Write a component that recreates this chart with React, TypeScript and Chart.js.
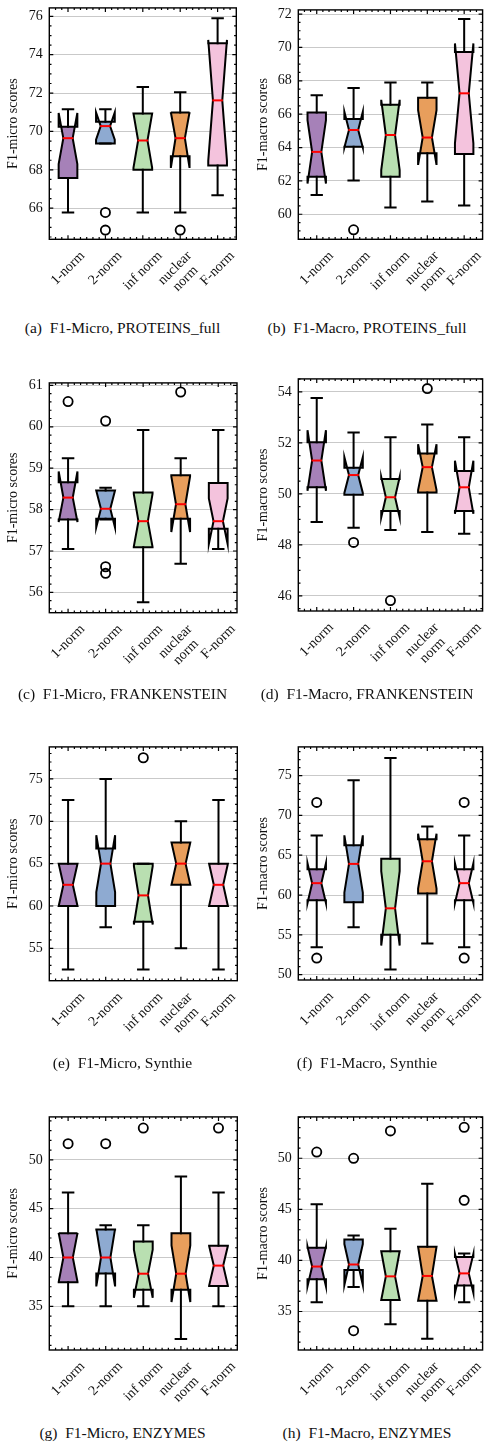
import React, { useEffect, useRef } from 'react';
import { Chart, registerables } from 'chart.js';

Chart.register(...registerables);

const FONT = "'Liberation Serif', 'DejaVu Serif', serif";

const categories = ['1-norm', '2-norm', 'inf norm', 'nuclear\nnorm', 'F-norm'];

// (a) F1-Micro, PROTEINS_full
const aWhiskerLow = [65.78, 69.37, 65.78, 65.78, 66.68];
const aQ1 = [67.57, 69.37, 68.0, 68.71, 68.23];
const aMedian = [69.65, 70.28, 69.53, 69.65, 71.62];
const aQ3 = [70.24, 70.51, 70.94, 70.99, 74.6];
const aWhiskerHigh = [71.16, 71.16, 72.32, 72.05, 75.9];
const aNotchLow = [68.3, 69.57, 68.1, 68.1, 68.47];
const aNotchHigh = [70.96, 70.99, 70.94, 71.0, 74.77];
const aOutliers: [number, number][] = [[1, 65.78], [1, 64.86], [3, 64.86]];
const aTicks = [66, 68, 70, 72, 74, 76];
const aRange = [64.38, 76.44];
const aMinor = 0.5;

// (b) F1-Macro, PROTEINS_full
const bWhiskerLow = [61.16, 62.02, 60.4, 60.77, 60.52];
const bQ1 = [62.25, 64.05, 62.25, 63.66, 63.62];
const bMedian = [63.74, 65.05, 64.75, 64.6, 67.25];
const bQ3 = [66.1, 65.71, 66.57, 66.98, 69.73];
const bWhiskerHigh = [67.14, 67.57, 67.9, 67.9, 71.7];
const bNotchLow = [61.84, 64.0, 62.65, 62.96, 64.25];
const bNotchHigh = [65.64, 66.14, 66.86, 66.24, 70.24];
const bOutliers: [number, number][] = [[1, 59.07]];
const bTicks = [60, 62, 64, 66, 68, 70, 72];
const bRange = [58.5, 72.25];
const bMinor = 0.5;

// (c) F1-Micro, FRANKENSTEIN
const cWhiskerLow = [57.05, 57.76, 55.76, 56.69, 57.05];
const cQ1 = [57.76, 57.78, 57.09, 57.78, 57.54];
const cMedian = [58.29, 58.02, 57.72, 58.13, 57.72];
const cQ3 = [58.66, 58.46, 58.41, 58.83, 58.64];
const cWhiskerHigh = [59.24, 58.53, 59.92, 59.24, 59.92];
const cNotchLow = [57.7, 57.57, 57.1, 57.46, 57.17];
const cNotchHigh = [58.92, 58.46, 58.38, 58.8, 58.27];
const cOutliers: [number, number][] = [[0, 60.61], [1, 60.14], [1, 56.62], [1, 56.46], [3, 60.84]];
const cTicks = [56, 57, 58, 59, 60, 61];
const cRange = [55.51, 61.06];
const cMinor = 0.2;

// (d) F1-Macro, FRANKENSTEIN
const dWhiskerLow = [48.9, 48.67, 48.59, 48.51, 48.44];
const dQ1 = [50.26, 49.97, 49.33, 50.06, 49.33];
const dMedian = [51.31, 50.74, 49.87, 51.05, 50.26];
const dQ3 = [52.03, 51.03, 50.59, 51.59, 50.9];
const dWhiskerHigh = [53.76, 52.41, 52.22, 52.72, 52.22];
const dNotchLow = [50.12, 50.04, 49.08, 50.15, 49.22];
const dNotchHigh = [52.5, 51.44, 50.66, 51.95, 51.3];
const dOutliers: [number, number][] = [[1, 48.1], [2, 45.82], [3, 54.13]];
const dTicks = [46, 48, 50, 52, 54];
const dRange = [45.41, 54.51];
const dMinor = 0.5;

// (e) F1-Micro, Synthie
const eWhiskerLow = [52.5, 57.5, 52.5, 55, 52.5];
const eQ1 = [60, 60, 58.13, 62.5, 60];
const eMedian = [62.5, 65, 61.25, 65, 62.5];
const eQ3 = [65, 66.8, 65, 67.5, 65];
const eWhiskerHigh = [72.5, 75, 65, 70, 72.5];
const eNotchLow = [60, 61.64, 57.8, 62.5, 60];
const eNotchHigh = [65, 68.36, 64.7, 67.5, 65];
const eOutliers: [number, number][] = [[2, 77.5]];
const eTicks = [55, 60, 65, 70, 75];
const eRange = [51.18, 78.78];
const eMinor = 1;

// (f) F1-Macro, Synthie
const fWhiskerLow = [53.44, 55.95, 50.65, 53.9, 53.44];
const fQ1 = [59.35, 59.1, 55, 60.2, 59.35];
const fMedian = [61.49, 63.91, 58.33, 64.24, 61.49];
const fQ3 = [63.25, 66.25, 64.57, 67.0, 63.25];
const fWhiskerHigh = [67.48, 74.42, 77.2, 68.6, 67.48];
const fNotchLow = [59.0, 60.3, 53.65, 60.8, 59.0];
const fNotchHigh = [64.0, 67.5, 63.0, 67.7, 64.0];
const fOutliers: [number, number][] = [[0, 71.63], [0, 52.08], [4, 71.63], [4, 52.08]];
const fTicks = [50, 55, 60, 65, 70, 75];
const fRange = [49.33, 78.6];
const fMinor = 1;

// (g) F1-Micro, ENZYMES
const gWhiskerLow = [35, 35, 35, 31.66, 35];
const gQ1 = [37.47, 38.37, 36.7, 36.7, 37.07];
const gMedian = [40, 40, 38.34, 38.34, 39.17];
const gQ3 = [42.48, 42.88, 41.65, 42.48, 41.21];
const gWhiskerHigh = [46.66, 43.3, 43.3, 48.3, 46.66];
const gNotchLow = [37.5, 37.04, 35.87, 35.43, 37.1];
const gNotchHigh = [42.5, 42.96, 40.8, 41.25, 41.2];
const gOutliers: [number, number][] = [[0, 51.67], [1, 51.67], [2, 53.27], [4, 53.27]];
const gTicks = [35, 40, 45, 50];
const gRange = [30.52, 54.41];
const gMinor = 1;

// (h) F1-Macro, ENZYMES
const hWhiskerLow = [35.9, 37.39, 33.75, 32.32, 35.9];
const hQ1 = [38.16, 39.05, 36.12, 36.05, 37.55];
const hMedian = [39.4, 39.6, 38.44, 38.48, 38.73];
const hQ3 = [41.25, 42.05, 40.9, 41.35, 40.33];
const hWhiskerHigh = [45.5, 42.44, 43.1, 47.5, 40.68];
const hNotchLow = [37.46, 37.6, 36.12, 36.05, 36.82];
const hNotchHigh = [41.34, 41.6, 40.9, 41.35, 40.64];
const hOutliers: [number, number][] = [[0, 50.61], [1, 50.0], [1, 33.12], [2, 52.68], [4, 53.03], [4, 45.88]];
const hTicks = [35, 40, 45, 50];
const hRange = [31.23, 54.05];
const hMinor = 1;

const captions = [
  '(a)  F1-Micro, PROTEINS_full',
  '(b)  F1-Macro, PROTEINS_full',
  '(c)  F1-Micro, FRANKENSTEIN',
  '(d)  F1-Macro, FRANKENSTEIN',
  '(e)  F1-Micro, Synthie',
  '(f)  F1-Macro, Synthie',
  '(g)  F1-Micro, ENZYMES',
  '(h)  F1-Macro, ENZYMES',
];
const yTitles = ['F1-micro scores', 'F1-macro scores'];

// styles / layout
const boxColors = ['#a681b8', '#8eaad1', '#b9dfb1', '#e89e5c', '#f4c3dd'];
const TEXT = '#111111';

type Stats = {
  lo: number[]; q1: number[]; med: number[]; q3: number[]; hi: number[];
  nlo: number[]; nhi: number[]; fliers: [number, number][];
  ticks: number[]; range: number[]; minor: number;
};

const stats: Stats[] = [
  { lo: aWhiskerLow, q1: aQ1, med: aMedian, q3: aQ3, hi: aWhiskerHigh, nlo: aNotchLow, nhi: aNotchHigh, fliers: aOutliers, ticks: aTicks, range: aRange, minor: aMinor },
  { lo: bWhiskerLow, q1: bQ1, med: bMedian, q3: bQ3, hi: bWhiskerHigh, nlo: bNotchLow, nhi: bNotchHigh, fliers: bOutliers, ticks: bTicks, range: bRange, minor: bMinor },
  { lo: cWhiskerLow, q1: cQ1, med: cMedian, q3: cQ3, hi: cWhiskerHigh, nlo: cNotchLow, nhi: cNotchHigh, fliers: cOutliers, ticks: cTicks, range: cRange, minor: cMinor },
  { lo: dWhiskerLow, q1: dQ1, med: dMedian, q3: dQ3, hi: dWhiskerHigh, nlo: dNotchLow, nhi: dNotchHigh, fliers: dOutliers, ticks: dTicks, range: dRange, minor: dMinor },
  { lo: eWhiskerLow, q1: eQ1, med: eMedian, q3: eQ3, hi: eWhiskerHigh, nlo: eNotchLow, nhi: eNotchHigh, fliers: eOutliers, ticks: eTicks, range: eRange, minor: eMinor },
  { lo: fWhiskerLow, q1: fQ1, med: fMedian, q3: fQ3, hi: fWhiskerHigh, nlo: fNotchLow, nhi: fNotchHigh, fliers: fOutliers, ticks: fTicks, range: fRange, minor: fMinor },
  { lo: gWhiskerLow, q1: gQ1, med: gMedian, q3: gQ3, hi: gWhiskerHigh, nlo: gNotchLow, nhi: gNotchHigh, fliers: gOutliers, ticks: gTicks, range: gRange, minor: gMinor },
  { lo: hWhiskerLow, q1: hQ1, med: hMedian, q3: hQ3, hi: hWhiskerHigh, nlo: hNotchLow, nhi: hNotchHigh, fliers: hOutliers, ticks: hTicks, range: hRange, minor: hMinor },
];

// plot rectangles in page pixels: [left, right, top, bottom]
const plotRects = [
  [49.3, 236.3, 3.3, 239.3],
  [298.3, 486.5, 4.7, 239.3],
  [49.3, 237.0, 377.7, 612.7],
  [298.3, 486.7, 374.3, 611.0],
  [49.3, 237.3, 742.3, 980.7],
  [298.3, 486.7, 742.3, 980.0],
  [49.3, 237.3, 1111.7, 1350.0],
  [298.3, 486.7, 1111.7, 1350.0],
];
const captionY = [328, 694, 1063, 1433];

function makePlugin(s: Stats) {
  return {
    id: 'notchedBoxes',
    afterDatasetsDraw(chart: any) {
      const { ctx } = chart;
      const xs = chart.scales.x;
      const ys = chart.scales.y;
      const unit = xs.getPixelForValue(1) - xs.getPixelForValue(0);
      const bw = unit * 0.25;
      const cap = unit * 0.14;
      const Y = (v: number) => ys.getPixelForValue(v);
      ctx.save();
      for (let i = 0; i < categories.length; i++) {
        const x = xs.getPixelForValue(i);
        ctx.beginPath();
        ctx.moveTo(x - bw, Y(s.q1[i]));
        ctx.lineTo(x + bw, Y(s.q1[i]));
        ctx.lineTo(x + bw, Y(s.nlo[i]));
        ctx.lineTo(x + bw / 2, Y(s.med[i]));
        ctx.lineTo(x + bw, Y(s.nhi[i]));
        ctx.lineTo(x + bw, Y(s.q3[i]));
        ctx.lineTo(x - bw, Y(s.q3[i]));
        ctx.lineTo(x - bw, Y(s.nhi[i]));
        ctx.lineTo(x - bw / 2, Y(s.med[i]));
        ctx.lineTo(x - bw, Y(s.nlo[i]));
        ctx.closePath();
        ctx.fillStyle = boxColors[i];
        ctx.fill();
        ctx.lineWidth = 2;
        ctx.lineJoin = 'miter';
        ctx.miterLimit = 10;
        ctx.strokeStyle = '#000';
        ctx.stroke();
      }
      ctx.lineCap = 'square';
      ctx.lineWidth = 2;
      ctx.strokeStyle = '#000';
      for (let i = 0; i < categories.length; i++) {
        const x = xs.getPixelForValue(i);
        ctx.beginPath();
        ctx.moveTo(x, Y(s.q3[i]));
        ctx.lineTo(x, Y(s.hi[i]));
        ctx.moveTo(x, Y(s.q1[i]));
        ctx.lineTo(x, Y(s.lo[i]));
        ctx.moveTo(x - cap, Y(s.hi[i]));
        ctx.lineTo(x + cap, Y(s.hi[i]));
        ctx.moveTo(x - cap, Y(s.lo[i]));
        ctx.lineTo(x + cap, Y(s.lo[i]));
        ctx.stroke();
      }
      ctx.lineCap = 'butt';
      ctx.strokeStyle = '#ff0000';
      ctx.lineWidth = 2;
      for (let i = 0; i < categories.length; i++) {
        const x = xs.getPixelForValue(i);
        ctx.beginPath();
        ctx.moveTo(x - bw / 2 - 0.6, Y(s.med[i]));
        ctx.lineTo(x + bw / 2 + 0.6, Y(s.med[i]));
        ctx.stroke();
      }
      ctx.restore();
    },
    afterDraw(chart: any) {
      const { ctx, chartArea } = chart;
      const { left, right, top, bottom } = chartArea;
      const xs = chart.scales.x;
      const ys = chart.scales.y;
      ctx.save();
      ctx.strokeStyle = '#000';
      ctx.lineWidth = 1.2;
      ctx.beginPath();
      for (const v of s.ticks) {
        const y = ys.getPixelForValue(v);
        ctx.moveTo(left, y); ctx.lineTo(left + 4, y);
        ctx.moveTo(right, y); ctx.lineTo(right - 4, y);
      }
      const start = Math.ceil(s.range[0] / s.minor - 1e-9);
      const end = Math.floor(s.range[1] / s.minor + 1e-9);
      for (let k = start; k <= end; k++) {
        const v = k * s.minor;
        if (s.ticks.some((t) => Math.abs(t - v) < 1e-6)) continue;
        const y = ys.getPixelForValue(v);
        ctx.moveTo(left, y); ctx.lineTo(left + 2.2, y);
        ctx.moveTo(right, y); ctx.lineTo(right - 2.2, y);
      }
      for (let i = 0; i < categories.length; i++) {
        const x = xs.getPixelForValue(i);
        ctx.moveTo(x, bottom); ctx.lineTo(x, bottom - 4);
        ctx.moveTo(x, top); ctx.lineTo(x, top + 4);
      }
      for (let k = 1; k < categories.length * 6; k++) {
        if ((k - 3) % 6 === 0) continue;
        const x = left + ((right - left) * k) / (categories.length * 6);
        ctx.moveTo(x, bottom); ctx.lineTo(x, bottom - 2.2);
        ctx.moveTo(x, top); ctx.lineTo(x, top + 2.2);
      }
      ctx.stroke();
      ctx.lineWidth = 1.4;
      ctx.strokeRect(left, top, right - left, bottom - top);

      ctx.fillStyle = TEXT;
      ctx.font = `14px ${FONT}`;
      ctx.textAlign = 'center';
      ctx.textBaseline = 'middle';
      const lh = 15;
      for (let i = 0; i < categories.length; i++) {
        const lines = categories[i].split('\n');
        const w = Math.max(...lines.map((l) => ctx.measureText(l).width));
        const h = lines.length * lh;
        const half = (w + h) / (2 * Math.SQRT2);
        const cx = xs.getPixelForValue(i);
        const cy = bottom + 9 + half;
        ctx.save();
        ctx.translate(cx, cy);
        ctx.rotate(-Math.PI / 4);
        lines.forEach((l, j) => {
          ctx.fillText(l, 0, (j - (lines.length - 1) / 2) * lh);
        });
        ctx.restore();
      }
      ctx.restore();
    },
  };
}

function BoxPanel({ index }: { index: number }) {
  const ref = useRef<HTMLCanvasElement>(null);
  const s = stats[index];
  const [L, R, T, B] = plotRects[index];
  const col = index % 2;
  const colLeft = col === 0 ? 0 : 245;
  const cw = col === 0 ? 245 : 244;
  const ctop = Math.round(T - 10);
  const padTop = T - ctop;
  const ch = Math.round(padTop + (B - T) + 74);
  const xHeight = ch - padTop - (B - T);
  const yWidth = L - colLeft;
  const padRight = cw - (R - colLeft);
  const titlePad = col === 0 ? 5 : 10;

  useEffect(() => {
    if (!ref.current) return;
    const chart = new Chart(ref.current, {
      type: 'line',
      data: {
        labels: categories,
        datasets: [
          {
            data: s.fliers.map(([i, v]) => ({ x: categories[i], y: v })) as any,
            showLine: false,
            pointStyle: 'circle',
            pointRadius: 4.6,
            pointBorderWidth: 1.8,
            pointBorderColor: '#000',
            pointBackgroundColor: 'rgba(0,0,0,0)',
            borderColor: '#000',
          },
        ],
      },
      options: {
        responsive: false,
        maintainAspectRatio: false,
        animation: false,
        events: [],
        layout: { padding: { top: padTop, left: 0, right: padRight, bottom: 0 } },
        plugins: { legend: { display: false }, tooltip: { enabled: false } },
        scales: {
          x: {
            type: 'category',
            offset: true,
            grid: { display: false },
            border: { display: false },
            ticks: { display: false },
            afterFit: (scale: any) => { scale.height = xHeight; },
          },
          y: {
            type: 'linear',
            min: s.range[0],
            max: s.range[1],
            afterBuildTicks: (scale: any) => { scale.ticks = s.ticks.map((v) => ({ value: v })); },
            afterFit: (scale: any) => { scale.width = yWidth; },
            grid: { color: '#c9c9c9', lineWidth: 1, drawTicks: false },
            border: { display: false },
            ticks: {
              padding: 6.5,
              color: TEXT,
              font: { family: FONT, size: 14 },
            },
            title: {
              display: true,
              text: yTitles[col],
              color: TEXT,
              font: { family: FONT, size: 14 },
              padding: { top: titlePad, bottom: 0 },
            },
          },
        },
      },
      plugins: [makePlugin(s)],
    } as any);
    return () => chart.destroy();
  }, []);

  return (
    <canvas
      ref={ref}
      width={cw}
      height={ch}
      style={{ position: 'absolute', left: colLeft, top: ctop, width: cw, height: ch }}
    />
  );
}

export default function App() {
  return (
    <div style={{ position: 'absolute', left: 0, top: 0, width: 489, height: 1450, background: '#fff', overflow: 'hidden' }}>
      {stats.map((_, i) => (
        <BoxPanel key={i} index={i} />
      ))}
      {captions.map((c, i) => (
        <div
          key={'cap' + i}
          style={{
            position: 'absolute',
            left: i % 2 === 0 ? 0 : 245,
            width: i % 2 === 0 ? 245 : 244,
            top: captionY[Math.floor(i / 2)] - 9,
            height: 18,
            lineHeight: '18px',
            textAlign: 'center',
            whiteSpace: 'pre',
            fontFamily: FONT,
            fontSize: 15.5,
            color: TEXT,
          }}
        >
          {c}
        </div>
      ))}
    </div>
  );
}
